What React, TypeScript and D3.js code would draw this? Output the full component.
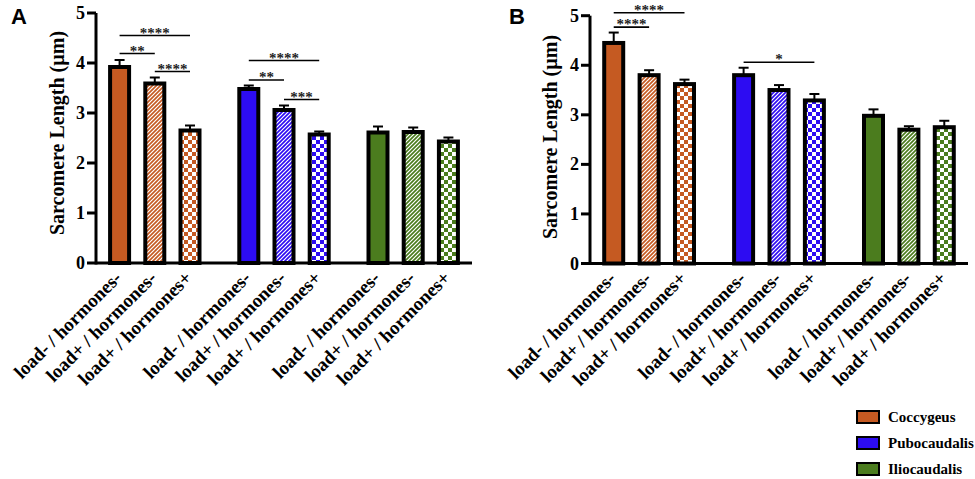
import React from "react";
import * as d3 from "d3";

const categories = ["load- / hormones-", "load+ / hormones-", "load+ / hormones+"];
const muscles = ["Coccygeus", "Pubocaudalis", "Iliocaudalis"];
const colors = ["#C55A22", "#2D0CF2", "#4B7C1E"];
const fills = ["solid", "hatch", "checker"];

const meansA = [3.92, 3.59, 2.65, 3.48, 3.06, 2.57, 2.61, 2.62, 2.43];
const errA = [0.14, 0.12, 0.1, 0.07, 0.09, 0.06, 0.12, 0.09, 0.08];
const meansB = [4.45, 3.8, 3.62, 3.8, 3.5, 3.29, 2.98, 2.7, 2.75];
const errB = [0.21, 0.1, 0.09, 0.15, 0.1, 0.13, 0.13, 0.07, 0.13];

const yTicks = [0, 1, 2, 3, 4, 5];

// significance brackets: [fromBar, toBar, level (µm), label]
const sigA: [number, number, number, string][] = [
  [0, 2, 4.55, "****"],
  [0, 1, 4.19, "**"],
  [1, 2, 3.83, "****"],
  [3, 5, 4.05, "****"],
  [3, 4, 3.66, "**"],
  [4, 5, 3.27, "***"],
];
const sigB: [number, number, number, string][] = [
  [0, 2, 5.06, "****"],
  [0, 1, 4.77, "****"],
  [3, 5, 4.06, "*"],
];

const SERIF = "'Liberation Serif', 'Times New Roman', serif";
const SANS = "'Liberation Sans', Arial, sans-serif";

function slot(i: number) {
  const g = Math.floor(i / 3);
  return g * 3.67 + (i % 3);
}

function fillFor(i: number) {
  const g = Math.floor(i / 3);
  const k = i % 3;
  if (k === 0) return colors[g];
  return `url(#${fills[k]}${g})`;
}

type PanelProps = {
  x0: number; x1: number; yBottom: number; yTop: number;
  means: number[]; errs: number[]; sigs: [number, number, number, string][];
  letter: string; letterX: number; titleX: number; titleY: number;
};

function Panel(p: PanelProps) {
  const x = d3.scaleLinear().domain([-0.67, 10.01]).range([p.x0, p.x1]);
  const y = d3.scaleLinear().domain([0, 5]).range([p.yBottom, p.yTop]);
  const bw = 19;
  return (
    <g>
      <text x={p.letterX} y={24} fontFamily={SANS} fontWeight="bold" fontSize={22}>{p.letter}</text>
      <text transform={`translate(${p.titleX},${p.titleY}) rotate(-90)`} textAnchor="middle"
        dominantBaseline="central" fontFamily={SERIF} fontWeight="bold" fontSize={20}>
        Sarcomere Length (µm)
      </text>
      {p.means.map((m, i) => {
        const cx = x(slot(i));
        return (
          <g key={i}>
            <line x1={cx} x2={cx} y1={y(m)} y2={y(m + p.errs[i])} stroke="#000" strokeWidth={2} />
            <line x1={cx - 5} x2={cx + 5} y1={y(m + p.errs[i])} y2={y(m + p.errs[i])} stroke="#000" strokeWidth={2} />
            <rect x={cx - bw / 2} y={y(m)} width={bw} height={y(0) - y(m)} fill={fillFor(i)} stroke="#000" strokeWidth={4} />
          </g>
        );
      })}
      <line x1={p.x0} x2={p.x0} y1={y(0) + 1.5} y2={y(5)} stroke="#000" strokeWidth={3} />
      <line x1={p.x0} x2={p.x1} y1={y(0)} y2={y(0)} stroke="#000" strokeWidth={3} />
      {yTicks.map((t) => (
        <g key={t}>
          <line x1={p.x0 - 9} x2={p.x0} y1={y(t)} y2={y(t)} stroke="#000" strokeWidth={3} />
          <text x={p.x0 - 11} y={y(t)} textAnchor="end" dominantBaseline="central"
            fontFamily={SERIF} fontWeight="bold" fontSize={18}>{t}</text>
        </g>
      ))}
      {p.means.map((_, i) => {
        const cx = x(slot(i));
        return (
          <text key={i} transform={`translate(${cx + 3},${y(0) + 16}) rotate(-45)`} textAnchor="end"
            fontFamily={SERIF} fontWeight="bold" fontSize={19}>
            {categories[i % 3]}
          </text>
        );
      })}
      {p.sigs.map(([a, b, lv, lab], k) => {
        const xa = x(slot(a));
        const xb = x(slot(b));
        return (
          <g key={k}>
            <line x1={xa} x2={xb} y1={y(lv)} y2={y(lv)} stroke="#000" strokeWidth={1.6} />
            <text x={(xa + xb) / 2} y={y(lv) + 2} textAnchor="middle" fontFamily={SERIF}
              fontWeight="bold" fontSize={15} fill="#222">{lab}</text>
          </g>
        );
      })}
    </g>
  );
}

export default function App() {
  return (
    <svg width={975} height={479} style={{ position: "absolute", left: 0, top: 0, background: "#fff" }}>
      <defs>
        {colors.map((c, g) => (
          <React.Fragment key={g}>
            <pattern id={`hatch${g}`} patternUnits="userSpaceOnUse" width={4} height={4}>
              <rect width={4} height={4} fill={c} />
              <path d="M-1,1 L1,-1 M0,4 L4,0 M3,5 L5,3" stroke="#fff" strokeWidth={1.2} />
            </pattern>
            <pattern id={`checker${g}`} patternUnits="userSpaceOnUse" width={8} height={8}>
              <rect width={8} height={8} fill="#fff" />
              <rect width={4} height={4} fill={c} />
              <rect x={4} y={4} width={4} height={4} fill={c} />
            </pattern>
          </React.Fragment>
        ))}
      </defs>
      <rect width={975} height={479} fill="#fff" />
      <Panel x0={96} x1={472} yBottom={263} yTop={13} means={meansA} errs={errA} sigs={sigA}
        letter="A" letterX={11} titleX={57} titleY={133} />
      <Panel x0={590} x1={968} yBottom={263.5} yTop={15.7} means={meansB} errs={errB} sigs={sigB}
        letter="B" letterX={509} titleX={550} titleY={137} />
      {muscles.map((m, g) => (
        <g key={m}>
          <rect x={857} y={411 + g * 26} width={22} height={12} fill={colors[g]} stroke="#000" strokeWidth={2} />
          <text x={888} y={417 + g * 26} dominantBaseline="central" fontFamily={SERIF} fontWeight="bold" fontSize={15}>{m}</text>
        </g>
      ))}
    </svg>
  );
}
